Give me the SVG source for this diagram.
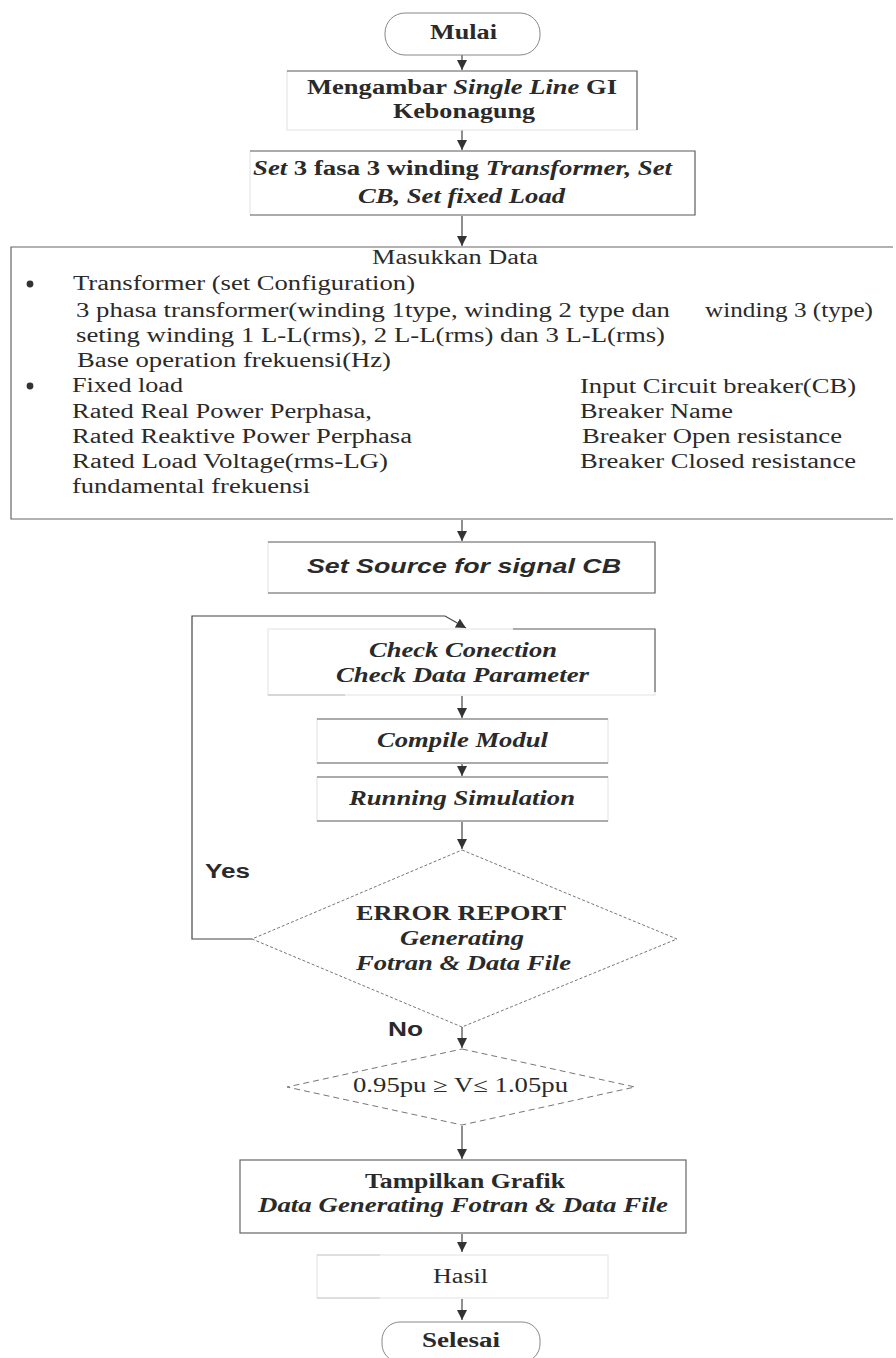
<svg xmlns="http://www.w3.org/2000/svg" width="896" height="1358" viewBox="0 0 896 1358">
<defs>
<marker id="ah" markerWidth="12" markerHeight="12" refX="10" refY="5.5" orient="auto" markerUnits="userSpaceOnUse">
<path d="M0,0.5 L10,5.5 L0,10.5 Z" fill="#333"/>
</marker>
<style>
text{fill:#2a2a2a;font-family:"Liberation Serif","Times New Roman",serif;font-size:20px}
.b{font-weight:bold}
.bi{font-weight:bold;font-style:italic}
.i{font-style:italic}
.sans{font-family:"Liberation Sans",Arial,sans-serif}
.faint{fill:none;stroke:#e2e2e2;stroke-width:1}
.edge{fill:none;stroke:#666;stroke-width:1.2}
.conn{fill:none;stroke:#444;stroke-width:1.2}
</style>
</defs>
<rect width="896" height="1358" fill="#fff"/>

<g id="connectors">
<path class="conn" d="M462,55 V70" marker-end="url(#ah)"/>
<path class="conn" d="M462,130 V150" marker-end="url(#ah)"/>
<path class="conn" d="M462,216 V246" marker-end="url(#ah)"/>
<path class="conn" d="M462,520 V541" marker-end="url(#ah)"/>
<path class="conn" d="M252,939 H192 V616 H445 L466,628" marker-end="url(#ah)"/>
<path class="conn" d="M462,696 V718" marker-end="url(#ah)"/>
<path class="conn" d="M462,764 V776" marker-end="url(#ah)"/>
<path class="conn" d="M462,822 V849" marker-end="url(#ah)"/>
<path class="conn" d="M462,1027 V1048" marker-end="url(#ah)"/>
<path class="conn" d="M462,1126 V1159" marker-end="url(#ah)"/>
<path class="conn" d="M462,1234 V1252" marker-end="url(#ah)"/>
<path class="conn" d="M462,1299 V1320" marker-end="url(#ah)"/>
<text class="sans b" x="205" y="878" font-size="18" textLength="45" lengthAdjust="spacingAndGlyphs">Yes</text>
<text class="sans b" x="388" y="1036" font-size="18" textLength="35" lengthAdjust="spacingAndGlyphs">No</text>
</g>

<g id="mulai">
<rect x="385" y="13" width="155" height="42" rx="20" fill="none" stroke="#888" stroke-width="1"/>
<text class="b" x="430" y="39" textLength="67" lengthAdjust="spacingAndGlyphs">Mulai</text>
</g>

<g id="mengambar">
<rect class="faint" x="287" y="71" width="350" height="59"/>
<path class="edge" d="M287,71 H637 V130"/>
<text class="b" x="307" y="94" textLength="310" lengthAdjust="spacingAndGlyphs">Mengambar <tspan class="i">Single Line</tspan> GI</text>
<text class="b" x="393" y="118" textLength="142" lengthAdjust="spacingAndGlyphs">Kebonagung</text>
</g>

<g id="set-trafo">
<rect class="faint" x="250" y="151" width="445" height="64"/>
<path class="edge" d="M250,151 H695 V215 H250"/>
<text class="b" x="253" y="175" textLength="419" lengthAdjust="spacingAndGlyphs"><tspan class="i">Set</tspan> 3 fasa 3 winding <tspan class="i">Transformer, Set</tspan></text>
<text class="bi" x="358" y="203" textLength="207" lengthAdjust="spacingAndGlyphs">CB, Set fixed Load</text>
</g>

<g id="masukkan-data">
<path class="edge" d="M893,247 H11 V519 H893"/>
<text x="372" y="264" textLength="166" lengthAdjust="spacingAndGlyphs">Masukkan Data</text>
<circle cx="30" cy="284" r="3.4" fill="#333"/>
<circle cx="30" cy="386" r="3.4" fill="#333"/>
<text x="73" y="290" textLength="342" lengthAdjust="spacingAndGlyphs">Transformer (set Configuration)</text>
<text x="76" y="317" textLength="594" lengthAdjust="spacingAndGlyphs">3 phasa transformer(winding 1type, winding 2 type dan</text>
<text x="705" y="317" textLength="168" lengthAdjust="spacingAndGlyphs">winding 3 (type)</text>
<text x="76" y="342" textLength="589" lengthAdjust="spacingAndGlyphs">seting winding 1 L-L(rms), 2 L-L(rms) dan 3 L-L(rms)</text>
<text x="77" y="367" textLength="314" lengthAdjust="spacingAndGlyphs">Base operation frekuensi(Hz)</text>
<text x="72" y="392" textLength="111" lengthAdjust="spacingAndGlyphs">Fixed load</text>
<text x="72" y="418" textLength="300" lengthAdjust="spacingAndGlyphs">Rated Real Power Perphasa,</text>
<text x="72" y="443" textLength="340" lengthAdjust="spacingAndGlyphs">Rated Reaktive Power Perphasa</text>
<text x="72" y="468" textLength="316" lengthAdjust="spacingAndGlyphs">Rated Load Voltage(rms-LG)</text>
<text x="72" y="493" textLength="238" lengthAdjust="spacingAndGlyphs">fundamental frekuensi</text>
<text x="580" y="393" textLength="276" lengthAdjust="spacingAndGlyphs">Input Circuit breaker(CB)</text>
<text x="580" y="418" textLength="153" lengthAdjust="spacingAndGlyphs">Breaker Name</text>
<text x="582" y="443" textLength="260" lengthAdjust="spacingAndGlyphs">Breaker Open resistance</text>
<text x="580" y="468" textLength="276" lengthAdjust="spacingAndGlyphs">Breaker Closed resistance</text>
</g>

<g id="set-source">
<rect class="faint" x="268" y="542" width="387" height="51"/>
<path class="edge" d="M268,542 H655 V593 H268"/>
<text class="sans bi" x="307" y="573" font-size="19" textLength="314" lengthAdjust="spacingAndGlyphs">Set Source for signal CB</text>
</g>

<g id="check">
<rect class="faint" x="268" y="629" width="387" height="66"/>
<path class="edge" d="M513,629 H655 V692"/>
<path fill="none" stroke="#bbb" d="M268,695 H345"/>
<text class="bi" x="369" y="657" textLength="188" lengthAdjust="spacingAndGlyphs">Check Conection</text>
<text class="bi" x="336" y="682" textLength="253" lengthAdjust="spacingAndGlyphs">Check Data Parameter</text>
</g>

<g id="compile">
<rect class="faint" x="317" y="719" width="291" height="44"/>
<path class="edge" d="M317,719 H608 M317,763 H608"/>
<text class="bi" x="377" y="747" textLength="171" lengthAdjust="spacingAndGlyphs">Compile Modul</text>
</g>

<g id="running">
<rect class="faint" x="317" y="777" width="291" height="44"/>
<path class="edge" d="M317,777 H608 M317,821 H608"/>
<text class="bi" x="349" y="805" textLength="226" lengthAdjust="spacingAndGlyphs">Running Simulation</text>
</g>

<g id="error-report">
<path d="M462,850 L677,939 L462,1027 L252,939 Z" fill="none" stroke="#777" stroke-width="1" stroke-dasharray="3,2"/>
<text class="b" x="356" y="920" textLength="210" lengthAdjust="spacingAndGlyphs">ERROR REPORT</text>
<text class="bi" x="400" y="945" textLength="124" lengthAdjust="spacingAndGlyphs">Generating</text>
<text class="bi" x="356" y="970" textLength="215" lengthAdjust="spacingAndGlyphs">Fotran &amp; Data File</text>
</g>

<g id="voltage-check">
<path d="M462,1049 L635,1087 L462,1125 L287,1087 Z" fill="none" stroke="#777" stroke-width="1" stroke-dasharray="6,4"/>
<text x="353" y="1092" textLength="215" lengthAdjust="spacingAndGlyphs">0.95pu ≥ V≤ 1.05pu</text>
</g>

<g id="tampilkan">
<rect x="240" y="1160" width="446" height="73" fill="none" stroke="#666" stroke-width="1.2"/>
<text class="b" x="365" y="1188" textLength="200" lengthAdjust="spacingAndGlyphs">Tampilkan Grafik</text>
<text class="bi" x="258" y="1212" textLength="410" lengthAdjust="spacingAndGlyphs">Data Generating Fotran &amp; Data File</text>
</g>

<g id="hasil">
<rect class="faint" x="317" y="1255" width="291" height="43"/>
<path fill="none" stroke="#ccc" d="M317,1255 H380 M317,1298 H380"/>
<text x="433" y="1283" font-size="21" textLength="55" lengthAdjust="spacingAndGlyphs">Hasil</text>
</g>

<g id="selesai">
<rect x="382" y="1322" width="158" height="40" rx="18" fill="none" stroke="#888" stroke-width="1"/>
<text class="b" x="422" y="1347" textLength="78" lengthAdjust="spacingAndGlyphs">Selesai</text>
</g>
</svg>
